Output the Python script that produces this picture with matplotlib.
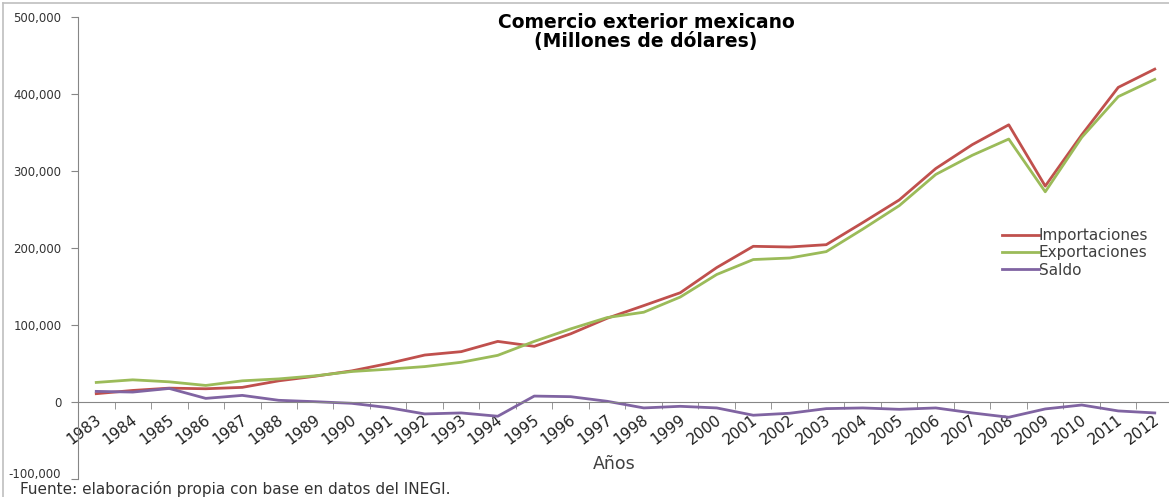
import numpy as np
import matplotlib
matplotlib.use("Agg")
import matplotlib.pyplot as plt
from matplotlib.lines import Line2D
from matplotlib.transforms import ScaledTranslation

years = [str(y) for y in range(1983, 2013)]

importaciones = [
    10800, 15000, 18000, 17200, 19000, 27500, 33500, 40400, 50000, 61000,
    65400, 78700, 72300, 88600, 108800, 125200, 141900, 174600, 202200, 201300,
    204300, 233000, 262400, 303200, 334200, 360000, 280400, 347000, 408600, 432300,
]
exportaciones = [
    25400, 28800, 26200, 21500, 27500, 30000, 34000, 39600, 42600, 46000,
    51600, 60600, 78700, 95000, 109700, 116600, 136300, 165600, 185000, 187000,
    195300, 224500, 255000, 295500, 320400, 341500, 273000, 343700, 396600, 419000,
]
saldo = [
    13800, 12900, 17600, 4700, 8600, 2200, 400, -1700, -7300, -15500,
    -14200, -18500, 7700, 6900, 900, -7700, -5600, -7700, -17200, -14600,
    -8600, -7700, -9500, -7700, -14200, -19800, -9000, -3900, -11600, -14200,
]

series = [
    ("Importaciones", importaciones, "#C0504D"),
    ("Exportaciones", exportaciones, "#9BBB59"),
    ("Saldo", saldo, "#8064A2"),
]

plt.rcParams["font.family"] = ["DejaVu Sans"]

W, H = 1169, 497
fig = plt.figure(figsize=(W / 100, H / 100), dpi=100)
ax = fig.add_axes([78 / W, 1 - 479 / H, 1095 / W, 462 / H])

x = np.arange(len(years))
for name, vals, color in series:
    ax.plot(x, vals, color=color, lw=2.0, label=name)

ax.set_xlim(-0.5, len(years) - 0.5)
ax.set_ylim(-100000, 500000)
ax.set_yticks(np.arange(-100000, 500001, 100000))
ax.yaxis.set_major_formatter(matplotlib.ticker.FuncFormatter(lambda v, p: f"{int(v):,}"))

for s in ["top", "right"]:
    ax.spines[s].set_visible(False)
ax.spines["bottom"].set_position(("data", 0))
ax.spines["bottom"].set_color("#868686")
ax.spines["left"].set_color("#868686")

ax.tick_params(axis="y", direction="out", length=5, color="#868686", pad=7,
               labelsize=8.5, labelcolor="#333333")
# lowest label sits right on top of the source note; lift it a bit
low = ax.get_yticklabels()[0]
low.set_transform(low.get_transform() + ScaledTranslation(0, 6 / 100, fig.dpi_scale_trans))

ax.set_xticks(x)
ax.set_xticklabels(years)
ax.set_xticks(np.arange(-0.5, len(years)), minor=True)
ax.tick_params(axis="x", which="major", length=0, pad=11.5, labelsize=11, labelcolor="#222222")
ax.tick_params(axis="x", which="minor", direction="out", length=5, color="#868686")
offset = ScaledTranslation(3 / 100, 0, fig.dpi_scale_trans)
for lab in ax.get_xticklabels():
    lab.set_rotation(37)
    lab.set_rotation_mode("anchor")
    lab.set_ha("right")
    lab.set_va("center")
    lab.set_transform(lab.get_transform() + offset)

leg = ax.legend(loc="upper left", bbox_to_anchor=(1002 / W, 1 - 228 / H),
                bbox_transform=fig.transFigure, frameon=False, fontsize=11,
                handlelength=2.4, handletextpad=0.0, labelspacing=0.15,
                borderpad=0, borderaxespad=0)
for t in leg.get_texts():
    t.set_color("#404040")

fig.text(646 / W, 1 - 32 / H, "Comercio exterior mexicano\n(Millones de dólares)",
         ha="center", va="center", fontsize=13.5, fontweight="bold", linespacing=1.0)
fig.text(614 / W, 1 - 464 / H, "Años", ha="center", va="center", fontsize=12.5, color="#404040")
fig.text(20 / W, 1 - 494 / H, "Fuente: elaboración propia con base en datos del INEGI.",
         ha="left", va="baseline", fontsize=11, color="#333333")

# chart border (top and left edges visible)
fig.add_artist(Line2D([3 / W, 1], [1 - 3 / H, 1 - 3 / H], transform=fig.transFigure,
                      color="#BFBFBF", lw=1.2))
fig.add_artist(Line2D([3 / W, 3 / W], [0, 1 - 3 / H], transform=fig.transFigure,
                      color="#BFBFBF", lw=1.2))

fig.savefig("out.png", dpi=100)
